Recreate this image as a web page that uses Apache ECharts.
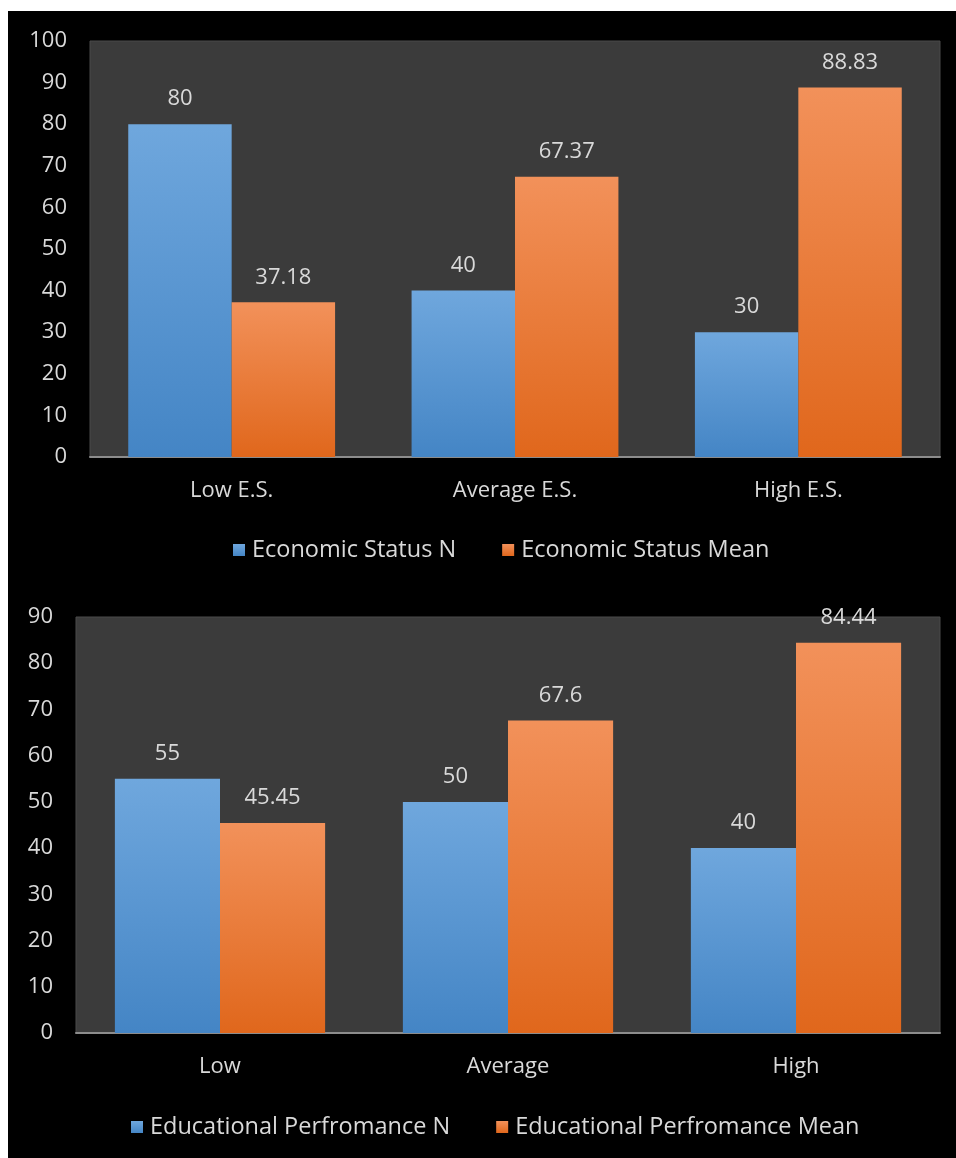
<!DOCTYPE html>
<html>
<head>
<meta charset="utf-8">
<script src="https://cdn.jsdelivr.net/npm/echarts@6/dist/echarts.min.js"></script>
<style>
  html, body { margin: 0; padding: 0; background: #fff; }
  #main { position: absolute; left: 8px; top: 11px; width: 948px; height: 1147px; background: #000; }
</style>
</head>
<body>
<div id="main"></div>
<script>
// top chart: economic status
var esCategories = ['Low E.S.', 'Average E.S.', 'High E.S.'];
var esN = [80, 40, 30];
var esMean = [37.18, 67.37, 88.83];

// bottom chart: educational performance
var epCategories = ['Low', 'Average', 'High'];
var epN = [55, 50, 40];
var epMean = [45.45, 67.6, 84.44];

var textColor = '#d9d9d9';
var fontFamily = '"Open Sans", "DejaVu Sans", sans-serif';
var fs = 22;

function grad(top, bottom) {
    return new echarts.graphic.LinearGradient(0, 0, 0, 1, [
        { offset: 0, color: top },
        { offset: 1, color: bottom }
    ]);
}
var blue = grad('#6fa7dd', '#4485c5');
var orange = grad('#f2915a', '#e0671c');

function xAxisFor(idx, cats) {
    return {
        type: 'category',
        gridIndex: idx,
        data: cats,
        axisLine: { lineStyle: { color: '#8c8c8c', width: 2 } },
        axisTick: { show: false },
        axisLabel: { color: textColor, fontSize: fs, margin: 23, fontFamily: fontFamily }
    };
}
function yAxisFor(idx, max) {
    return {
        type: 'value',
        gridIndex: idx,
        min: 0,
        max: max,
        interval: 10,
        axisLine: { show: false },
        axisTick: { show: false },
        splitLine: { show: false },
        axisLabel: { color: textColor, fontSize: fs, margin: 23, fontFamily: fontFamily }
    };
}
function barSeries(name, idx, data, color) {
    return {
        name: name,
        type: 'bar',
        xAxisIndex: idx,
        yAxisIndex: idx,
        data: data,
        barGap: '0%',
        barCategoryGap: '27%',
        itemStyle: { color: color },
        label: {
            show: true,
            position: 'top',
            distance: 14,
            color: textColor,
            fontSize: fs,
            fontFamily: fontFamily
        }
    };
}

var chart = echarts.init(document.getElementById('main'));
chart.setOption({
    backgroundColor: '#000',
    animation: false,
    grid: [
        { left: 82, top: 30, width: 850, height: 416, show: true, backgroundColor: '#3b3b3b', borderColor: '#4a4a4a', borderWidth: 1 },
        { left: 68, top: 606, width: 864, height: 416, show: true, backgroundColor: '#3b3b3b', borderColor: '#4a4a4a', borderWidth: 1 }
    ],
    legend: [
        {
            data: ['Economic Status N', 'Economic Status Mean'],
            left: 220, top: 522,
            itemWidth: 12, itemHeight: 12, itemGap: 46,
            icon: 'rect',
            textStyle: { color: textColor, fontSize: 23.5, fontFamily: fontFamily, padding: [0, 0, 0, 2] }
        },
        {
            data: ['Educational Perfromance N', 'Educational Perfromance Mean'],
            left: 118, top: 1099,
            itemWidth: 12, itemHeight: 12, itemGap: 46,
            icon: 'rect',
            textStyle: { color: textColor, fontSize: 23.5, fontFamily: fontFamily, padding: [0, 0, 0, 2] }
        }
    ],
    xAxis: [xAxisFor(0, esCategories), xAxisFor(1, epCategories)],
    yAxis: [yAxisFor(0, 100), yAxisFor(1, 90)],
    series: [
        barSeries('Economic Status N', 0, esN, blue),
        barSeries('Economic Status Mean', 0, esMean, orange),
        barSeries('Educational Perfromance N', 1, epN, blue),
        barSeries('Educational Perfromance Mean', 1, epMean, orange)
    ]
});
</script>
</body>
</html>
